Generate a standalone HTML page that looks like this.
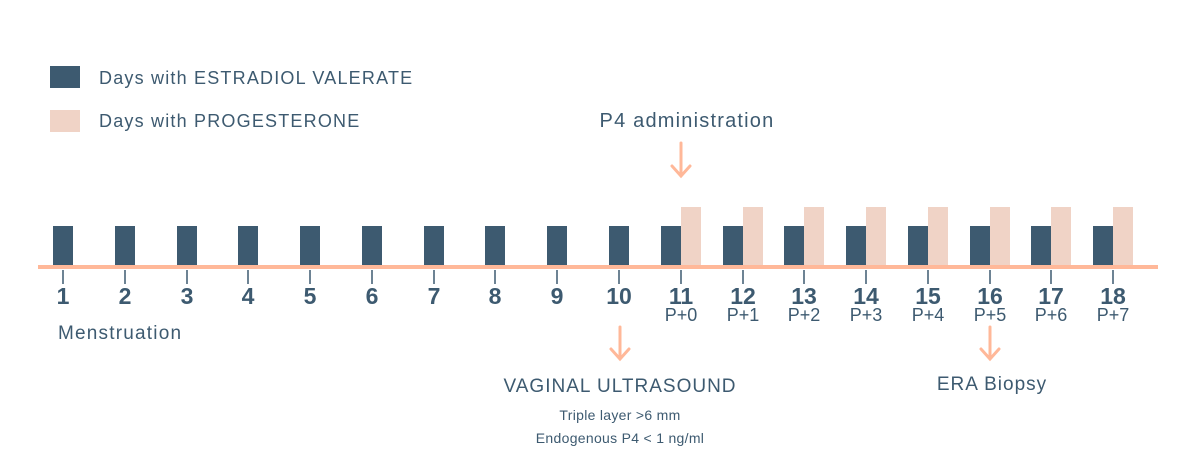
<!DOCTYPE html>
<html><head><meta charset="utf-8"><style>
html,body{margin:0;padding:0;background:#fff;}
svg{display:block;font-family:"Liberation Sans",sans-serif;}
</style></head><body>
<svg width="1200" height="456" viewBox="0 0 1200 456" xmlns="http://www.w3.org/2000/svg">
<rect x="50" y="66" width="30" height="22" fill="#3d5a70"/>
<rect x="50" y="110" width="30" height="22" fill="#f0d3c6"/>
<text x="99" y="84" font-size="18" fill="#3d5a70" letter-spacing="1.2">Days with ESTRADIOL VALERATE</text>
<text x="99" y="127" font-size="18" fill="#3d5a70" letter-spacing="1.2">Days with PROGESTERONE</text>
<text x="687" y="127" font-size="20" fill="#3d5a70" text-anchor="middle" letter-spacing="1.2">P4 administration</text>
<g stroke="#ffb899" stroke-width="3" fill="none" stroke-linecap="round">
<path d="M681 143V176M672 166L681 176L690 166"/>
<path d="M620 327V359M611 349L620 359L629 349"/>
<path d="M990 327V359M981 349L990 359L999 349"/>
</g>
<g id="bars">
<rect x="53" y="226" width="20" height="40" fill="#3d5a70"/>
<rect x="115" y="226" width="20" height="40" fill="#3d5a70"/>
<rect x="177" y="226" width="20" height="40" fill="#3d5a70"/>
<rect x="238" y="226" width="20" height="40" fill="#3d5a70"/>
<rect x="300" y="226" width="20" height="40" fill="#3d5a70"/>
<rect x="362" y="226" width="20" height="40" fill="#3d5a70"/>
<rect x="424" y="226" width="20" height="40" fill="#3d5a70"/>
<rect x="485" y="226" width="20" height="40" fill="#3d5a70"/>
<rect x="547" y="226" width="20" height="40" fill="#3d5a70"/>
<rect x="609" y="226" width="20" height="40" fill="#3d5a70"/>
<rect x="661" y="226" width="20" height="40" fill="#3d5a70"/><rect x="681" y="207" width="20" height="59" fill="#f0d3c6"/>
<rect x="723" y="226" width="20" height="40" fill="#3d5a70"/><rect x="743" y="207" width="20" height="59" fill="#f0d3c6"/>
<rect x="784" y="226" width="20" height="40" fill="#3d5a70"/><rect x="804" y="207" width="20" height="59" fill="#f0d3c6"/>
<rect x="846" y="226" width="20" height="40" fill="#3d5a70"/><rect x="866" y="207" width="20" height="59" fill="#f0d3c6"/>
<rect x="908" y="226" width="20" height="40" fill="#3d5a70"/><rect x="928" y="207" width="20" height="59" fill="#f0d3c6"/>
<rect x="970" y="226" width="20" height="40" fill="#3d5a70"/><rect x="990" y="207" width="20" height="59" fill="#f0d3c6"/>
<rect x="1031" y="226" width="20" height="40" fill="#3d5a70"/><rect x="1051" y="207" width="20" height="59" fill="#f0d3c6"/>
<rect x="1093" y="226" width="20" height="40" fill="#3d5a70"/><rect x="1113" y="207" width="20" height="59" fill="#f0d3c6"/>
</g>
<rect x="38" y="265" width="1120" height="4" fill="#ffb899"/>
<g stroke="#3d5a70" stroke-width="1.5">
<path d="M63 270V284M125 270V284M187 270V284M248 270V284M310 270V284M372 270V284M434 270V284M495 270V284M557 270V284M619 270V284M681 270V284M743 270V284M804 270V284M866 270V284M928 270V284M990 270V284M1051 270V284M1113 270V284"/>
</g>
<g font-size="23" font-weight="bold" fill="#3d5a70" text-anchor="middle">
<text x="63" y="304">1</text><text x="125" y="304">2</text><text x="187" y="304">3</text><text x="248" y="304">4</text><text x="310" y="304">5</text><text x="372" y="304">6</text><text x="434" y="304">7</text><text x="495" y="304">8</text><text x="557" y="304">9</text><text x="619" y="304">10</text><text x="681" y="304">11</text><text x="743" y="304">12</text><text x="804" y="304">13</text><text x="866" y="304">14</text><text x="928" y="304">15</text><text x="990" y="304">16</text><text x="1051" y="304">17</text><text x="1113" y="304">18</text>
</g>
<g font-size="18" fill="#3d5a70" text-anchor="middle">
<text x="681" y="321">P+0</text><text x="743" y="321">P+1</text><text x="804" y="321">P+2</text><text x="866" y="321">P+3</text><text x="928" y="321">P+4</text><text x="990" y="321">P+5</text><text x="1051" y="321">P+6</text><text x="1113" y="321">P+7</text>
</g>
<text x="58" y="339" font-size="19" fill="#3d5a70" letter-spacing="1.2">Menstruation</text>
<text x="620" y="392" font-size="19" fill="#3d5a70" text-anchor="middle" letter-spacing="1">VAGINAL ULTRASOUND</text>
<text x="620" y="420" font-size="14" fill="#3d5a70" text-anchor="middle" letter-spacing="0.3">Triple layer &gt;6 mm</text>
<text x="620" y="443" font-size="14" fill="#3d5a70" text-anchor="middle" letter-spacing="0.3">Endogenous P4 &lt; 1 ng/ml</text>
<text x="992" y="390" font-size="19" fill="#3d5a70" text-anchor="middle" letter-spacing="1">ERA Biopsy</text>
</svg>
</body></html>
